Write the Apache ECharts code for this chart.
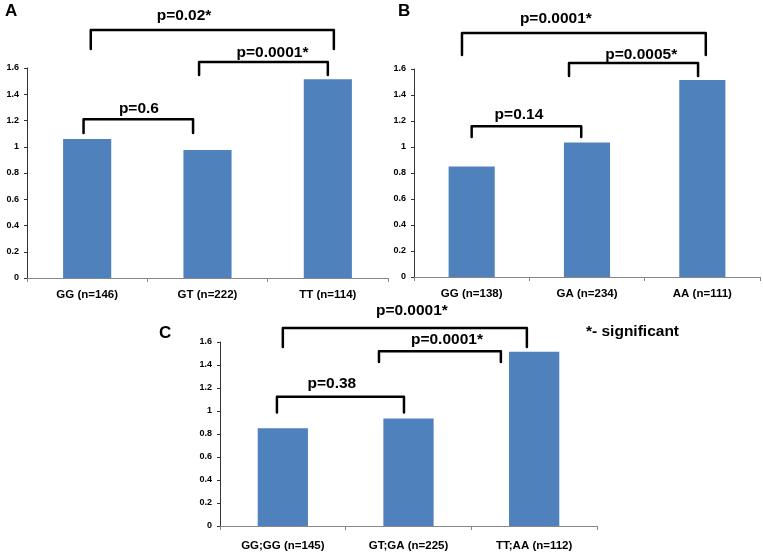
<!DOCTYPE html>
<html>
<head>
<meta charset="utf-8">
<script src="https://cdn.jsdelivr.net/npm/echarts@6/dist/echarts.min.js"></script>
<style>html,body{margin:0;padding:0;background:#fff}#c{width:763px;height:552px}</style>
</head>
<body>
<div id="c"></div>
<script>
// ---- data ----
var catsA = ['GG (n=146)', 'GT (n=222)', 'TT (n=114)'];
var valsA = [1.06, 0.975, 1.515];
var catsB = ['GG (n=138)', 'GA (n=234)', 'AA (n=111)'];
var valsB = [0.85, 1.035, 1.515];
var catsC = ['GG;GG (n=145)', 'GT;GA (n=225)', 'TT;AA (n=112)'];
var valsC = [0.85, 0.935, 1.515];
var yTicks = [0, 0.2, 0.4, 0.6, 0.8, 1, 1.2, 1.4, 1.6];
// brackets: [xLeft, xRight, yTop, yLegEnd, label, labelX, labelY] in data units (category index, value)
var bracketsA = [
  [-0.03, 0.88, 1.21, 1.105, 'p=0.6', 0.43, 1.29],
  [0.93, 2.0, 1.646, 1.547, 'p=0.0001*', 1.54, 1.72],
  [0.03, 2.05, 1.89, 1.745, 'p=0.02*', 0.805, 2.0]
];
var bracketsB = [
  [0.0, 0.95, 1.16, 1.077, 'p=0.14', 0.41, 1.246],
  [0.844, 1.963, 1.646, 1.546, 'p=0.0005*', 1.47, 1.708],
  [-0.084, 2.03, 1.877, 1.708, 'p=0.0001*', 0.73, 1.99]
];
var bracketsC = [
  [-0.047, 0.964, 1.125, 0.986, 'p=0.38', 0.39, 1.237],
  [0.765, 1.735, 1.52, 1.427, 'p=0.0001*', 1.306, 1.618],
  [0.0, 1.942, 1.721, 1.557, 'p=0.0001*', 1.027, 1.869]
];

var FONT = '"Liberation Sans", Arial, sans-serif';
var BAR = '#4F81BD';

var grids = [
  {left: 27, top: 68, width: 361, height: 210},
  {left: 414, top: 69, width: 346, height: 208},
  {left: 220, top: 342, width: 377, height: 185}
];
var cats = [catsA, catsB, catsC];
var vals = [valsA, valsB, valsC];
var brs = [bracketsA, bracketsB, bracketsC];
var labelMargins = [11, 11, 14];

var xAxes = [], yAxes = [], series = [];
grids.forEach(function (g, i) {
  xAxes.push({
    type: 'category', gridIndex: i, data: cats[i],
    axisLine: {onZero: false, lineStyle: {color: '#868686', width: 1}},
    axisTick: {show: true, length: 4, lineStyle: {color: '#868686'}},
    axisLabel: {color: '#000', fontFamily: FONT, fontWeight: 'bold', fontSize: 11.5, margin: labelMargins[i]}
  });
  xAxes.push({
    type: 'value', gridIndex: i, min: -0.5, max: 2.5, show: false,
    axisLine: {onZero: false}
  });
  yAxes.push({
    type: 'value', gridIndex: i, min: yTicks[0], max: yTicks[yTicks.length - 1], interval: 0.2,
    splitLine: {show: false},
    axisLine: {show: true, onZero: false, lineStyle: {color: '#333', width: 1}},
    axisTick: {show: true, length: 3, lineStyle: {color: '#333'}},
    axisLabel: {color: '#000', fontFamily: FONT, fontWeight: 'bold', fontSize: 9, margin: 8}
  });
  series.push({
    type: 'bar', xAxisIndex: 2 * i, yAxisIndex: i, data: vals[i],
    barWidth: '40%', itemStyle: {color: BAR}, silent: true
  });
  brs[i].forEach(function (b) {
    series.push({
      type: 'line', xAxisIndex: 2 * i + 1, yAxisIndex: i, clip: false, silent: true,
      symbol: 'none', animation: false,
      lineStyle: {color: '#000', width: 2.5, join: 'round', cap: 'round'},
      data: [[b[0], b[3]], [b[0], b[2]], [b[1], b[2]], [b[1], b[3]]]
    });
    series.push({
      type: 'scatter', xAxisIndex: 2 * i + 1, yAxisIndex: i, clip: false, silent: true,
      symbolSize: 1, itemStyle: {color: 'rgba(0,0,0,0)'}, animation: false,
      label: {show: true, position: 'inside', formatter: b[4], color: '#000',
        textBorderWidth: 0, textShadowBlur: 0, opacity: 1,
        fontFamily: FONT, fontWeight: 'bold', fontSize: 15.5},
      data: [[b[5], b[6]]]
    });
  });
});

var chart = echarts.init(document.getElementById('c'), null, {renderer: 'canvas'});
chart.setOption({
  animation: false,
  backgroundColor: '#fff',
  grid: grids,
  xAxis: xAxes,
  yAxis: yAxes,
  series: series,
  graphic: [
    {type: 'text', left: 5, top: 3, style: {text: 'A', font: 'bold 17px ' + FONT, fill: '#000'}},
    {type: 'text', left: 398, top: 3, style: {text: 'B', font: 'bold 17px ' + FONT, fill: '#000'}},
    {type: 'text', left: 159, top: 325, style: {text: 'C', font: 'bold 17px ' + FONT, fill: '#000'}},
    {type: 'text', left: 586, top: 324, style: {text: '*- significant', font: 'bold 15.5px ' + FONT, fill: '#000'}}
  ]
});
</script>
</body>
</html>
